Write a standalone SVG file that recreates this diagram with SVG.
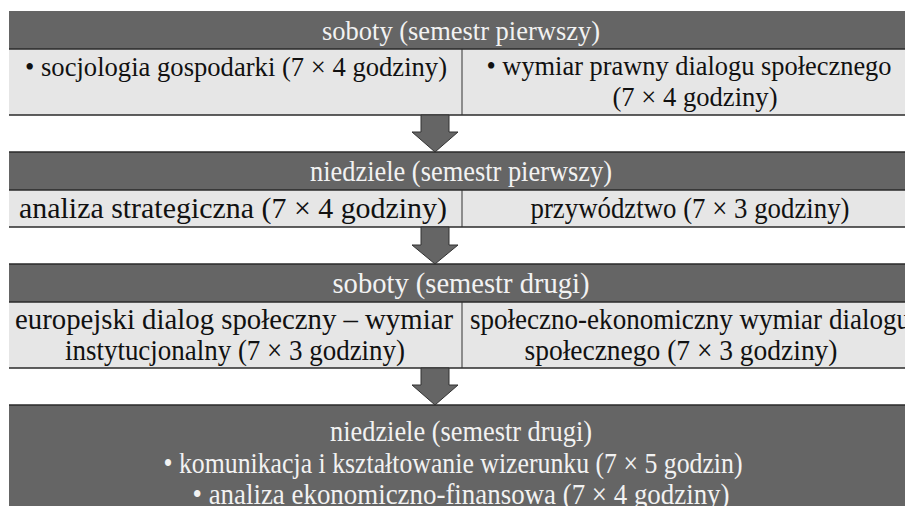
<svg xmlns="http://www.w3.org/2000/svg" width="905" height="506" viewBox="0 0 905 506">
<style>
.hd{fill:#656565;stroke:none}
.row{fill:#e6e6e6;stroke:none}
.edge{stroke:#2a2a2a;stroke-width:1.3;fill:none}
.div{stroke:#333;stroke-width:1;fill:none}
.arr{fill:#656565;stroke:#333;stroke-width:1}
text{font-family:'Liberation Serif',serif;text-anchor:middle}
.s1{font-size:28px}
.s2{font-size:30px}
.ht{fill:#f2f2f2}
.rt{fill:#111}
</style>
<rect width="905" height="506" fill="#fff"/>
<g id="sob1" class="s1">
<rect class="hd" x="9" y="11" width="904" height="38"/>
<text class="ht" x="461" y="40" textLength="278" lengthAdjust="spacingAndGlyphs">soboty (semestr pierwszy)</text>
</g>
<g id="sob1-left" class="s1">
<rect class="row" x="9" y="49" width="453" height="66"/>
<text class="rt" x="236" y="76" textLength="422" lengthAdjust="spacingAndGlyphs">• socjologia gospodarki (7 × 4 godziny)</text>
</g>
<g id="sob1-right" class="s1">
<rect class="row" x="462" y="49" width="451" height="66"/>
<text class="rt" x="689" y="75" textLength="405" lengthAdjust="spacingAndGlyphs">• wymiar prawny dialogu społecznego</text>
<text class="rt" x="695" y="106" textLength="165" lengthAdjust="spacingAndGlyphs">(7 × 4 godziny)</text>
</g>
<g id="nd1" class="s2">
<rect class="hd" x="9" y="152" width="904" height="38"/>
<text class="ht" x="461" y="181" textLength="302" lengthAdjust="spacingAndGlyphs">niedziele (semestr pierwszy)</text>
</g>
<g id="nd1-left" class="s2">
<rect class="row" x="9" y="190" width="453" height="37"/>
<text class="rt" x="233" y="218" textLength="428" lengthAdjust="spacingAndGlyphs">analiza strategiczna (7 × 4 godziny)</text>
</g>
<g id="nd1-right" class="s2">
<rect class="row" x="462" y="190" width="451" height="37"/>
<text class="rt" x="690" y="218" textLength="319" lengthAdjust="spacingAndGlyphs">przywództwo (7 × 3 godziny)</text>
</g>
<g id="sob2" class="s2">
<rect class="hd" x="9" y="264" width="904" height="38"/>
<text class="ht" x="461" y="293" textLength="257" lengthAdjust="spacingAndGlyphs">soboty (semestr drugi)</text>
</g>
<g id="sob2-left" class="s2">
<rect class="row" x="9" y="302" width="453" height="66"/>
<text class="rt" x="234" y="329" textLength="438" lengthAdjust="spacingAndGlyphs">europejski dialog społeczny – wymiar</text>
<text class="rt" x="235" y="360" textLength="340" lengthAdjust="spacingAndGlyphs">instytucjonalny (7 × 3 godziny)</text>
</g>
<g id="sob2-right" class="s2">
<rect class="row" x="462" y="302" width="451" height="66"/>
<text class="rt" x="690" y="329" textLength="440" lengthAdjust="spacingAndGlyphs">społeczno-ekonomiczny wymiar dialogu</text>
<text class="rt" x="681" y="360" textLength="313" lengthAdjust="spacingAndGlyphs">społecznego (7 × 3 godziny)</text>
</g>
<g id="nd2" class="s2">
<rect class="hd" x="9" y="405" width="904" height="110"/>
<text class="ht" x="461" y="441" textLength="262" lengthAdjust="spacingAndGlyphs">niedziele (semestr drugi)</text>
<text class="ht" x="453" y="473" textLength="579" lengthAdjust="spacingAndGlyphs">• komunikacja i kształtowanie wizerunku (7 × 5 godzin)</text>
<text class="ht" x="461" y="504" textLength="537" lengthAdjust="spacingAndGlyphs">• analiza ekonomiczno-finansowa (7 × 4 godziny)</text>
</g>
<g id="lines">
<line class="edge" x1="9" y1="49" x2="913" y2="49"/>
<line class="edge" x1="9" y1="115" x2="913" y2="115"/>
<line class="div" x1="462" y1="49" x2="462" y2="115"/>
<line class="edge" x1="9" y1="152" x2="913" y2="152"/>
<line class="edge" x1="9" y1="190" x2="913" y2="190"/>
<line class="edge" x1="9" y1="227" x2="913" y2="227"/>
<line class="div" x1="462" y1="190" x2="462" y2="227"/>
<line class="edge" x1="9" y1="264" x2="913" y2="264"/>
<line class="edge" x1="9" y1="302" x2="913" y2="302"/>
<line class="edge" x1="9" y1="368" x2="913" y2="368"/>
<line class="div" x1="462" y1="302" x2="462" y2="368"/>
<line class="edge" x1="9" y1="405" x2="913" y2="405"/>
</g>
<g id="connectors">
<polygon class="arr" points="421,115 449,115 449,132 458,132 435,152 412,132 421,132"/>
<polygon class="arr" points="421,227 449,227 449,245 458,245 435,264 412,245 421,245"/>
<polygon class="arr" points="421,368 449,368 449,385 458,385 435,405 412,385 421,385"/>
</g>
</svg>
